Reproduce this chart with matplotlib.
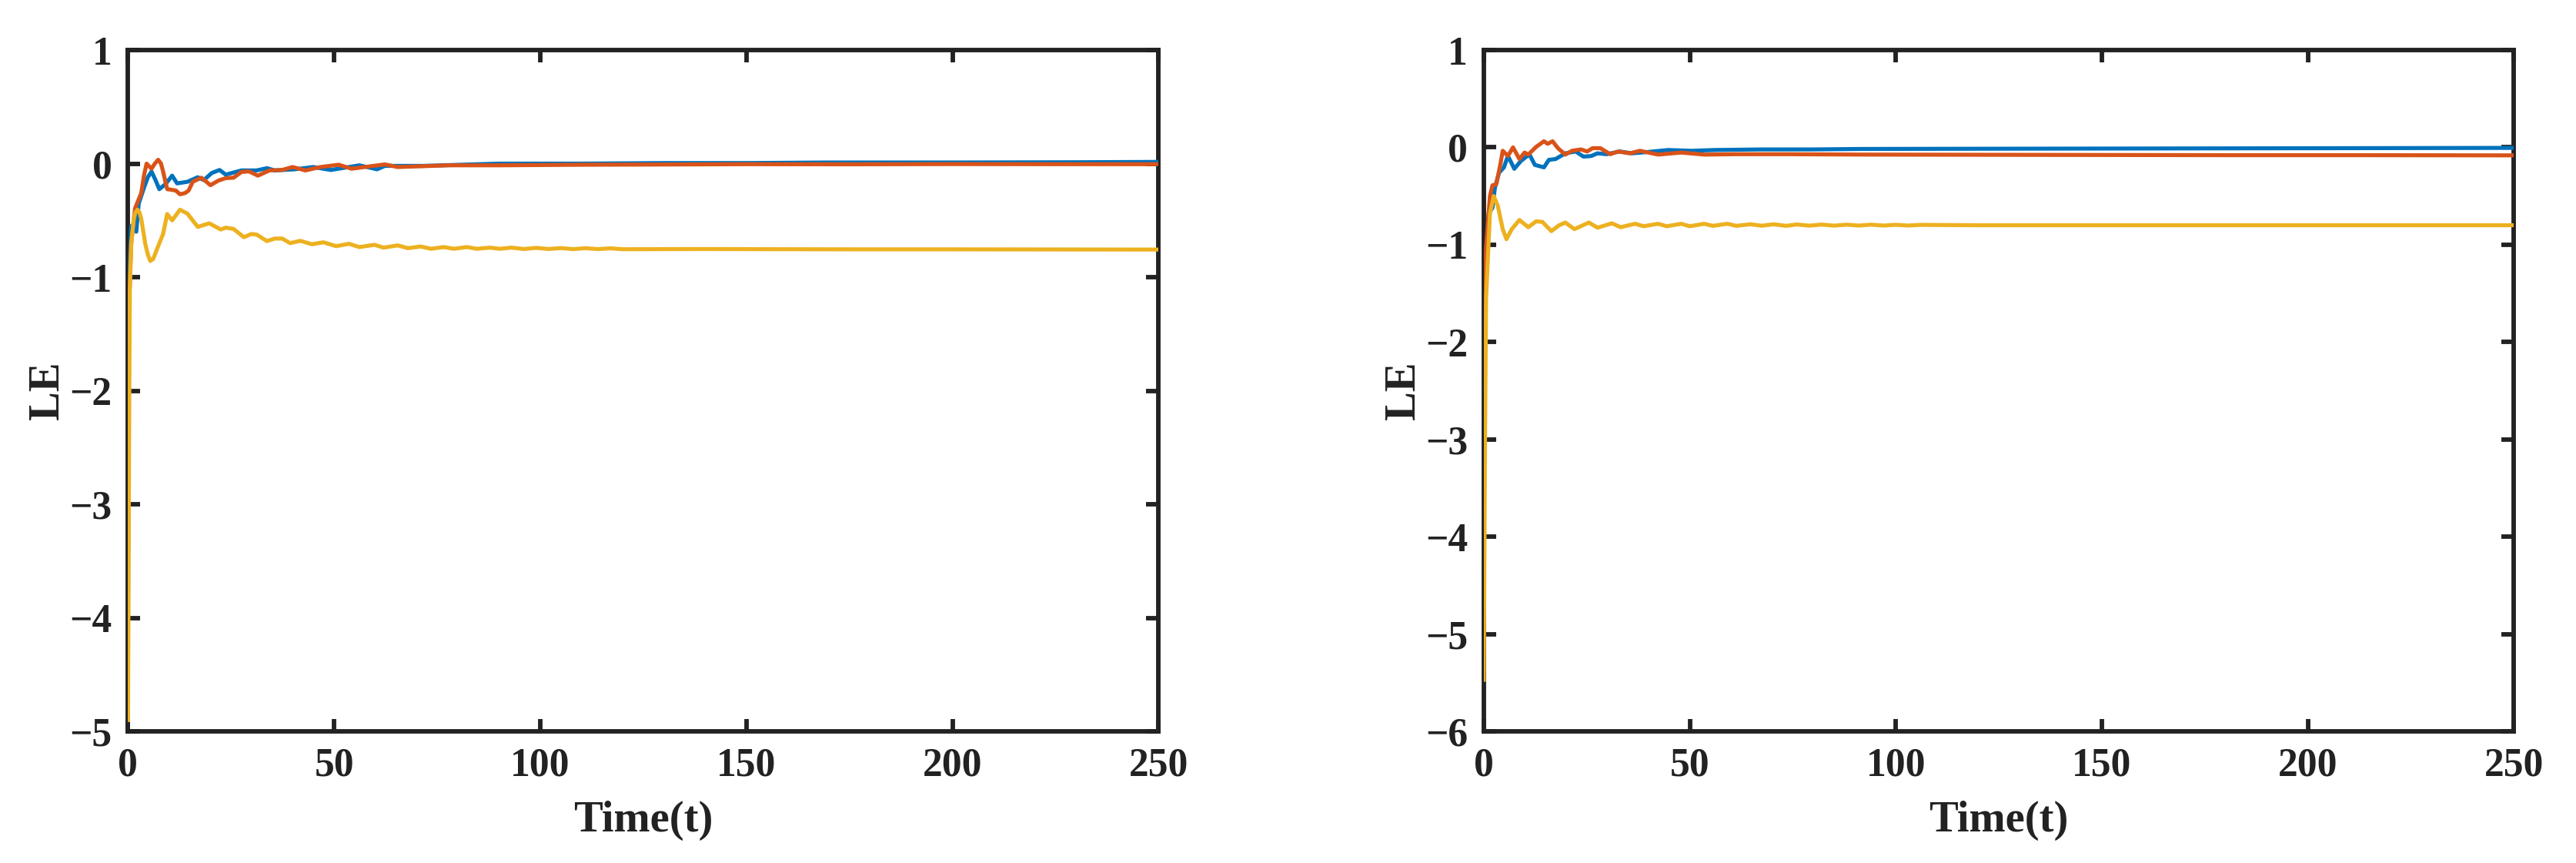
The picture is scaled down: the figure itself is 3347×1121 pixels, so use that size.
import matplotlib
matplotlib.use('Agg')
import matplotlib.pyplot as plt

# left panel
t_a_blue = [0, 0.1, 0.3, 0.75, 2.0, 2.6, 3.9, 4.8, 5.7, 6.6, 7.6, 9.1, 10.7, 11.9, 14.4, 16.9,
            18.4, 20.3, 22.2, 23.7, 27.5, 31.2, 33.7, 35.6, 40.5, 44.9, 49.2, 56.1, 60.4, 62.3,
            71.6, 90, 110, 130, 150, 170, 200, 230, 250]
le_a_blue = [-4.1, -1.6, -1.0, -0.55, -0.6, -0.35, -0.21, -0.12, -0.07, -0.14, -0.225, -0.18,
             -0.106, -0.174, -0.16, -0.12, -0.145, -0.083, -0.056, -0.097, -0.06, -0.06, -0.04,
             -0.06, -0.05, -0.03, -0.056, -0.015, -0.05, -0.02, -0.02, 0.0, 0.0, 0.005, 0.005,
             0.01, 0.01, 0.012, 0.015]

t_a_orange = [0, 0.1, 0.3, 0.75, 1.7, 2.3, 3.2, 3.9, 4.5, 5.7, 6.5, 7.3, 8.0, 8.5, 9.5, 10.5,
              11.6, 12.6, 13.8, 14.7, 15.7, 17.8, 20.0, 21.9, 23.7, 25.6, 27.5, 29.3, 31.5, 34.3,
              37.4, 39.9, 43.0, 46.7, 51.1, 54.2, 62.3, 65.4, 77.8, 90, 110, 130, 150, 175, 200,
              225, 250]
le_a_orange = [-4.4, -2.1, -1.2, -0.71, -0.395, -0.34, -0.26, -0.1, 0.0, -0.045, 0.0, 0.034,
               0.0, -0.07, -0.225, -0.23, -0.237, -0.27, -0.26, -0.237, -0.16, -0.124, -0.19,
               -0.15, -0.128, -0.124, -0.074, -0.068, -0.106, -0.06, -0.056, -0.03, -0.06, -0.03,
               -0.01, -0.045, -0.007, -0.03, -0.015, -0.015, -0.01, -0.008, -0.005, -0.006,
               -0.004, -0.005, -0.005]

t_a_yellow = [0, 0.25, 0.43, 0.8, 1.4, 1.8, 2.3, 2.8, 3.2, 4.2, 4.8, 5.4, 6.1, 7.0, 8.5, 9.5,
              10.7, 12.6, 14.4, 16.9, 19.7, 22.5, 23.7, 25.6, 28.1, 29.9, 31.2, 33.7, 35.6, 37.4,
              39.3, 41.8, 44.6, 47.4, 50.5, 53.6, 56.1, 59.8, 62.0, 65.4, 67.9, 71.0, 73.5, 76.6,
              79.0, 82.2, 84.6, 87.8, 90.2, 93, 96, 99, 102, 105, 108, 111, 114, 117, 120, 140,
              160, 180, 200, 225, 250]
le_a_yellow = [-4.9, -2.5, -1.12, -0.7, -0.485, -0.43, -0.406, -0.43, -0.485, -0.71, -0.80,
               -0.857, -0.84, -0.755, -0.62, -0.444, -0.50, -0.406, -0.44, -0.557, -0.526, -0.58,
               -0.564, -0.575, -0.648, -0.62, -0.625, -0.682, -0.66, -0.66, -0.70, -0.68, -0.71,
               -0.693, -0.727, -0.706, -0.735, -0.715, -0.74, -0.72, -0.745, -0.73, -0.75,
               -0.735, -0.75, -0.735, -0.75, -0.74, -0.75, -0.74, -0.752, -0.742, -0.752, -0.744,
               -0.753, -0.745, -0.753, -0.746, -0.754, -0.752, -0.754, -0.755, -0.755, -0.756,
               -0.757]

# right panel
t_b_blue = [0, 0.1, 0.25, 1.2, 2.1, 2.7, 3.7, 4.9, 5.85, 6.6, 7.4, 9.0, 10.2, 11.1, 12.4, 14.6,
            15.8, 17.4, 19.8, 22.3, 24.2, 26.1, 27.6, 29.8, 33.0, 36.0, 39.1, 44.7, 50.3, 55.9,
            67.2, 79.6, 92, 120, 150, 180, 210, 250]
le_b_blue = [-2.75, -1.6, -1.29, -0.68, -0.62, -0.416, -0.26, -0.205, -0.088, -0.15, -0.22,
             -0.14, -0.1, -0.074, -0.18, -0.205, -0.128, -0.12, -0.061, -0.042, -0.095, -0.088,
             -0.061, -0.07, -0.042, -0.061, -0.05, -0.027, -0.035, -0.027, -0.021, -0.021,
             -0.016, -0.014, -0.012, -0.01, -0.008, -0.005]

t_b_orange = [0, 0.1, 0.56, 1.5, 2.1, 3.05, 4.0, 4.6, 5.85, 7.1, 8.65, 9.9, 10.8, 12.7, 14.6,
              15.5, 16.7, 18.0, 19.8, 21.4, 23.6, 25.1, 26.4, 28.3, 30.7, 32.6, 35.4, 37.9, 42.3,
              47.9, 53.5, 60.9, 73.4, 92, 120, 150, 180, 210, 250]
le_b_orange = [-3.13, -2.0, -1.02, -0.5, -0.39, -0.378, -0.18, -0.035, -0.088, 0.0, -0.12,
               -0.053, -0.074, 0.005, 0.063, 0.037, 0.063, -0.008, -0.074, -0.035, -0.021,
               -0.042, -0.008, -0.008, -0.07, -0.042, -0.061, -0.035, -0.074, -0.053, -0.074,
               -0.07, -0.07, -0.074, -0.076, -0.078, -0.08, -0.08, -0.082]

t_b_yellow = [0, 0.3, 0.56, 1.5, 2.4, 3.4, 4.0, 4.6, 5.5, 6.8, 8.65, 10.8, 12.7, 14.2, 16.4,
              18.3, 19.8, 22.0, 25.5, 27.6, 31.1, 33.2, 36.7, 38.8, 42.3, 44.4, 47.9, 50.0, 53.5,
              55.6, 59.1, 61.3, 64.7, 67.5, 70.3, 73.4, 76, 79, 82, 85, 88, 91, 94, 97, 100, 103,
              106, 120, 150, 180, 210, 250]
le_b_yellow = [-5.47, -3.0, -1.55, -0.68, -0.5, -0.6, -0.72, -0.84, -0.943, -0.84, -0.746, -0.82,
               -0.76, -0.765, -0.86, -0.8, -0.772, -0.84, -0.772, -0.825, -0.78, -0.82, -0.785,
               -0.81, -0.785, -0.81, -0.785, -0.81, -0.785, -0.806, -0.785, -0.806, -0.79,
               -0.805, -0.79, -0.806, -0.792, -0.804, -0.793, -0.804, -0.794, -0.803, -0.794,
               -0.803, -0.795, -0.803, -0.796, -0.8, -0.8, -0.8, -0.8, -0.8]

xticks = [0, 50, 100, 150, 200, 250]

plt.rcParams['font.family'] = ['Liberation Serif', 'DejaVu Serif']
plt.rcParams['font.weight'] = 'bold'

fig = plt.figure(figsize=(3347 / 300, 1121 / 300), dpi=300)
ax1 = fig.add_axes([0.0497, 0.1525, 0.4001, 0.7895])
ax2 = fig.add_axes([0.5760, 0.1525, 0.3999, 0.7895])

panels = [
    (ax1, [(t_a_blue, le_a_blue), (t_a_orange, le_a_orange), (t_a_yellow, le_a_yellow)], (-5, 1)),
    (ax2, [(t_b_blue, le_b_blue), (t_b_orange, le_b_orange), (t_b_yellow, le_b_yellow)], (-6, 1)),
]
colors = ['#0072BD', '#D95319', '#EDB120']
dark = '#222222'

for ax, series, ylim in panels:
    for (t, le), c in zip(series, colors):
        # lines over the spine, as in the original (curves start right on the y axis)
        ax.plot(t, le, color=c, linewidth=1.25, zorder=3)
    ax.set_xlim(0, 250)
    ax.set_ylim(*ylim)
    ax.set_xticks(xticks)
    ax.set_yticks(range(ylim[0], ylim[1] + 1))
    for s in ax.spines.values():
        s.set_linewidth(1.4)
        s.set_color(dark)
    ax.tick_params(direction='in', length=3.8, width=1.4, color=dark, labelcolor=dark,
                   labelsize=12.4, top=True, right=True)
    ax.tick_params(axis='x', pad=5)
    ax.tick_params(axis='y', pad=5)
    ax.set_xlabel('Time(t)', fontsize=13.6, fontweight='bold', color=dark, labelpad=5)
    ax.set_ylabel('LE', fontsize=13.6, fontweight='bold', color=dark, labelpad=0.5)

plt.savefig('out.png', dpi=300)
